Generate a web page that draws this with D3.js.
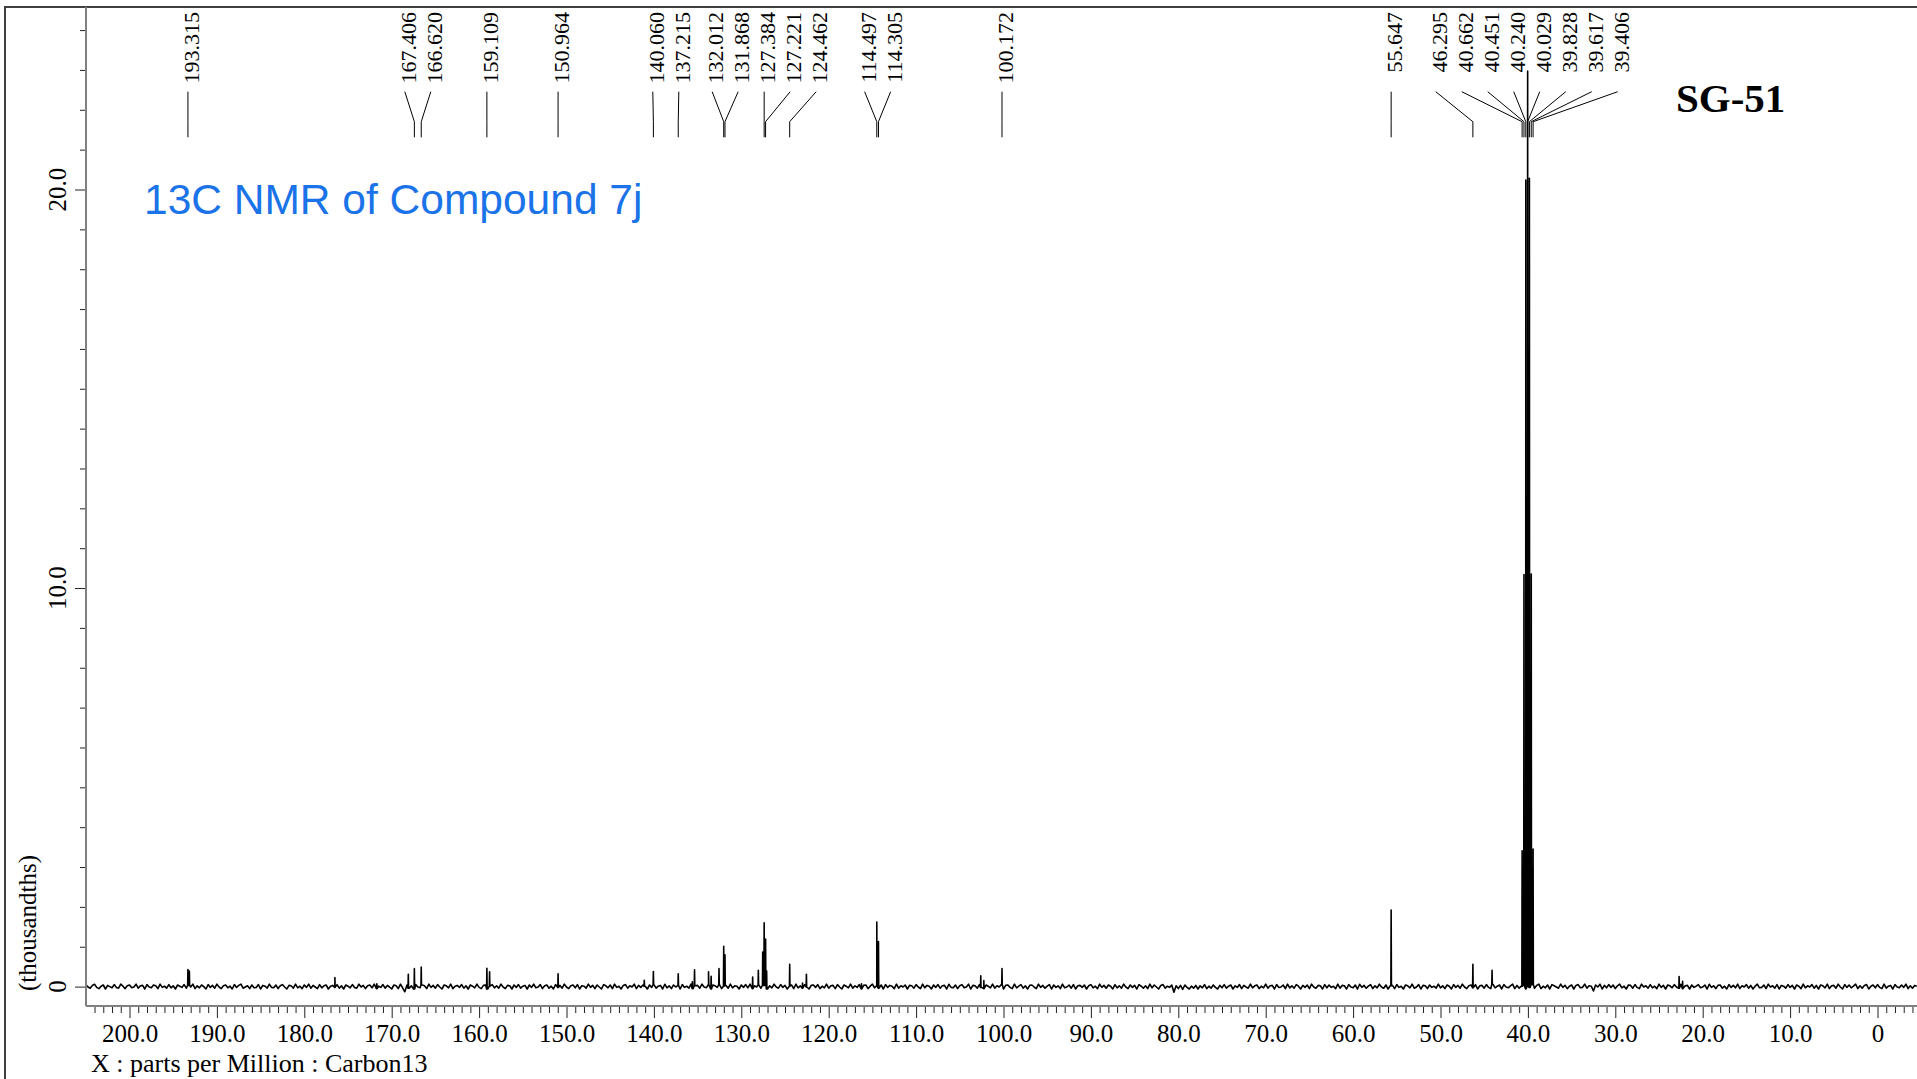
<!DOCTYPE html>
<html>
<head>
<meta charset="utf-8">
<script src="https://cdn.jsdelivr.net/npm/d3@7"></script>
<style>
  html, body { margin: 0; padding: 0; background: #fff; overflow: hidden; }
  svg { display: block; }
</style>
</head>
<body>
<svg id="chart" width="1917" height="1079"></svg>
<script>
// ---- 13C spectrum data (intensity in thousandths) ----

// Picked, annotated peaks (ppm) and their heights
const labelledShifts = [193.315, 167.406, 166.620, 159.109, 150.964, 140.060, 137.215,
  132.012, 131.868, 127.384, 127.221, 124.462, 114.497, 114.305, 100.172, 55.647,
  46.295, 40.662, 40.451, 40.240, 40.029, 39.828, 39.617, 39.406];
const labelledHeights = [0.40, 0.51, 0.45, 0.52, 0.34, 0.33, 0.29,
  1.00, 0.77, 1.57, 1.14, 0.55, 1.60, 1.17, 0.40, 1.90,
  0.59, 3.4, 10.3, 20.3, 22.95, 20.3, 10.3, 3.4];

// Smaller, unannotated signals
const minorShifts = [193.15, 176.5, 171.7, 168.1, 158.8, 141.1, 135.6, 135.35, 133.75,
  133.45, 132.55, 128.7, 128.05, 127.55, 127.1, 123.0, 122.55, 116.25, 102.6, 102.25,
  44.1, 22.7, 22.3];
const minorHeights = [0.36, 0.25, 0.12, 0.35, 0.36, 0.15, 0.17, 0.40, 0.32,
  0.32, 0.40, 0.29, 0.37, 0.84, 0.45, 0.13, 0.32, 0.13, 0.29, 0.20,
  0.35, 0.29, 0.18];

// Baseline noise, sampled every 0.25 ppm from 205.5 ppm downward
const noiseStartPpm = 205.5;
const noiseStepPpm = 0.25;
const baselineNoise = [
  .02,-.03,.05,-.01,-.04,.03,.06,-.02,-.05,.01,.04,-.06,.03,.00,-.03,.05,-.02,-.04,.06,.01,
  -.05,.02,.04,-.03,-.01,.06,-.04,.02,.03,-.06,.05,-.01,-.03,.04,.02,-.05,.06,-.02,.01,-.04,
  .05,-.03,.02,-.06,.04,.01,-.02,.05,-.04,.03,-.01,.06,-.05,.02,-.03,.04,.00,-.06,.05,-.02,
  .03,-.04,.06,-.01,-.05,.02,.04,-.03,.01,-.06,.05,-.02,.03,.06,-.04,-.01,.02,-.05,.04,-.03,
  -.02,.05,-.06,.03,.01,-.04,.06,-.02,-.03,.04,-.05,.02,.05,-.01,-.06,.03,.02,-.04,.06,-.03,
  .01,-.05,.04,-.02,.06,-.04,.03,-.01,-.05,.05,-.03,.02,.04,-.06,.01,.03,-.02,.05,-.04,.02,
  -.06,.04,.01,-.03,.05,-.02,-.04,.06,-.01,.03,-.05,.02,.04,-.03,.06,-.05,.01,-.02,.05,-.04,
  .03,-.01,-.06,.04,.02,-.05,.06,-.03,-.13,.04,-.04,.02,-.06,.05,-.01,-.03,.04,.02,-.05,.06,
  -.02,.03,-.04,.05,-.01,-.06,.04,.02,-.03,.06,-.05,.01,.03,-.02,.05,-.04,.02,-.06,.04,.01,
  -.03,.06,-.02,-.05,.03,.04,-.06,.01,.05,-.03,.02,-.04,.06,-.01,-.05,.03,.02,-.06,.04,-.02,
  .05,-.04,.01,.03,-.06,.04,-.02,.06,-.03,-.01,.05,-.05,.02,.04,-.04,.01,-.06,.05,-.02,.03,
  -.04,.06,-.01,-.05,.02,.04,-.03,.05,-.06,.02,.01,-.04,.06,-.02,.03,-.05,.04,-.01,-.06,.05,
  .02,-.03,.04,-.05,.06,-.02,.01,-.06,.03,.05,-.04,.02,-.01,.06,-.05,.03,-.02,.04,.01,-.06,
  .04,-.02,.05,-.04,.01,.03,-.06,.06,-.03,.02,-.05,.04,-.01,.03,-.06,.05,-.02,.01,-.04,.06,
  -.05,.02,.03,-.04,.06,-.01,-.03,.05,-.06,.04,.02,-.02,.05,-.05,.01,.03,-.04,.06,-.03,.02,
  .01,-.06,.04,-.02,.05,-.03,.06,-.05,.02,-.01,.04,-.04,.03,.05,-.06,.02,-.03,.06,-.01,-.04,
  .05,-.02,.03,-.06,.01,.04,-.05,.06,-.03,.02,-.04,.05,-.01,-.06,.03,.04,-.02,.05,-.05,.01,
  -.03,.06,-.04,.02,.03,-.05,.05,-.01,-.06,.04,.01,-.03,.06,-.04,.02,-.02,.05,-.06,.03,.04,
  -.05,.01,.06,-.03,.02,-.04,.04,-.06,.05,-.02,.03,.01,-.05,.06,-.04,.02,-.01,.04,-.06,.03,
  .02,-.04,.05,-.01,-.05,.06,-.03,.03,.01,-.06,.04,-.02,.05,-.04,.02,.03,-.06,.06,-.02,-.03,
  .04,-.05,.02,.05,-.03,-.01,.06,-.06,.03,.02,-.04,.05,-.02,-.05,.04,.01,-.03,.06,-.04,.02,
  -.01,.05,-.06,.03,.04,-.02,-.05,.06,-.03,.01,.05,-.04,.02,-.06,.03,.04,-.01,-.05,.06,-.02,
  .03,-.04,.01,.05,-.06,.04,-.02,.02,-.05,.06,-.03,-.01,.04,-.04,.05,-.06,.02,.03,-.02,.04,
  -.06,.02,.05,-.03,.01,-.05,.06,-.02,.03,-.04,.04,.01,-.06,.05,-.03,.02,-.04,.06,-.01,-.05,
  .04,-.02,.03,-.06,.05,.01,-.04,.02,-.05,.06,-.03,.04,-.01,-.06,.03,.05,-.04,.01,-.02,.04,
  -.14,.02,-.05,.03,-.07,.04,-.02,-.06,.01,-.04,.03,-.06,.02,-.03,.05,-.05,.01,-.04,.04,-.02,
  -.06,.03,-.03,.05,-.04,.01,.04,-.06,.02,-.02,.05,-.05,.03,-.01,-.04,.06,-.03,.02,.04,-.05,
  .01,-.03,.06,-.04,.02,.03,-.06,.05,-.02,-.01,.04,-.05,.06,-.03,.02,-.04,.05,.01,-.06,.03,
  -.02,.04,-.05,.06,-.01,-.04,.03,.02,-.06,.05,-.03,.04,-.02,.01,-.05,.06,-.04,.03,.02,-.06,
  .05,-.01,-.03,.04,-.06,.06,-.02,.03,-.04,.01,.05,-.05,.02,-.03,.06,-.01,-.04,.04,-.06,.02,
  .03,-.05,.05,-.02,.01,-.06,.04,.02,-.03,.06,-.04,-.01,.05,-.06,.03,.02,-.05,.04,-.02,.01,
  -.04,.06,-.03,.02,-.05,.04,.01,-.06,.05,-.02,.03,-.04,.06,-.01,-.05,.02,.04,-.03,.05,-.06,
  .02,.03,-.04,.05,-.02,-.05,.06,-.03,.01,.04,-.06,.05,-.01,-.03,.02,.06,-.05,.03,-.04,.01,
  .04,-.06,.02,-.02,.05,-.04,.03,.06,-.05,.01,-.03,.04,-.06,.05,.02,-.01,-.04,.06,-.02,.03,
  -.05,.01,.04,-.06,.03,.05,-.03,-.02,.06,-.04,.02,.01,-.11,.04,-.01,.06,-.06,.03,-.03,.05,
  -.02,.04,-.05,.02,.06,-.03,.01,-.06,.04,.03,-.04,.05,-.02,-.05,.06,-.01,.02,-.04,.05,-.03,
  .01,-.05,.06,-.02,.03,-.06,.04,.02,-.03,.05,-.01,-.04,.06,-.05,.02,.03,-.06,.04,-.02,.01,
  .05,-.03,-.01,.04,-.06,.06,-.02,.02,-.05,.03,.04,-.04,.01,-.06,.05,-.02,.03,-.03,.06,-.05,
  .02,-.01,.05,-.04,.03,-.06,.01,.06,-.03,-.02,.04,-.05,.06,-.01,.02,-.04,.05,-.06,.03,.01,
  -.04,.05,-.02,.03,-.06,.04,.01,-.05,.06,-.03,.02,-.01,.05,-.04,.03,-.06,.04,.02,-.03,.06,
  -.05,.02,.03,-.04,.06,-.01,-.06,.05,-.02,.04,-.03,.01,.06,-.05,.02,-.04,.03,.05,-.06,.01,
  .04,-.03,.05,-.02,-.05,.06,-.04,.01,.03,-.06,.05,-.01,-.03,.04,-.02,.06,-.05,.02,-.04,.03,
  .01
];

// Axis ticks
const xMajorTicks = [200, 190, 180, 170, 160, 150, 140, 130, 120, 110, 100, 90, 80, 70, 60, 50, 40, 30, 20, 10, 0];
const xTickLabels = ["200.0", "190.0", "180.0", "170.0", "160.0", "150.0", "140.0", "130.0", "120.0", "110.0",
  "100.0", "90.0", "80.0", "70.0", "60.0", "50.0", "40.0", "30.0", "20.0", "10.0", "0"];
const yMajorTicks = [0, 10, 20];
const yTickLabels = ["0", "10.0", "20.0"];

// ---- layout ----
const W = 1917, H = 1079;
const plotLeft = 86, axisY = 1006, frameTop = 7;
const serif = "'Liberation Serif', 'Times New Roman', Times, serif";

const svg = d3.select("#chart");
const x = d3.scaleLinear().domain([200, 0]).range([129.5, 1877.5]);
const y = d3.scaleLinear().domain([0, 20]).range([986.6, 189.5]);

svg.append("rect").attr("width", W).attr("height", H).attr("fill", "#fff");

// outer frame (left and top edges)
svg.append("path")
  .attr("d", `M5,${H} L5,${frameTop} L${W},${frameTop}`)
  .attr("fill", "none").attr("stroke", "#404040").attr("stroke-width", 2);

// ---- spectrum trace ----
const noiseAt = ppm => {
  const i = Math.max(0, Math.min(baselineNoise.length - 1, Math.round((noiseStartPpm - ppm) / noiseStepPpm)));
  return baselineNoise[i];
};
const points = baselineNoise.map((v, i) => ({ ppm: noiseStartPpm - i * noiseStepPpm, v }));
const halfWidth = 0.03;
const addPeak = (p, h) => {
  const b = noiseAt(p);
  points.push({ ppm: p + halfWidth, v: b }, { ppm: p, v: b + h }, { ppm: p - halfWidth, v: b });
};
labelledShifts.forEach((p, i) => addPeak(p, labelledHeights[i]));
minorShifts.forEach((p, i) => addPeak(p, minorHeights[i]));
points.sort((a, b) => b.ppm - a.ppm);

svg.append("clipPath").attr("id", "plotClip")
  .append("rect").attr("x", plotLeft).attr("y", 0).attr("width", W - plotLeft).attr("height", axisY);

svg.append("path")
  .datum(points)
  .attr("clip-path", "url(#plotClip)")
  .attr("fill", "none")
  .attr("stroke", "#000")
  .attr("stroke-width", 1.6)
  .attr("stroke-linejoin", "round")
  .attr("d", d3.line().x(d => x(d.ppm)).y(d => y(d.v)));

// ---- x axis ----
const xMinor = d3.range(-4, 205).filter(v => v % 10 !== 0);
svg.append("g").attr("transform", `translate(0,${axisY})`)
  .call(d3.axisBottom(x).tickValues(xMinor).tickSize(7).tickFormat(""))
  .call(g => g.select(".domain").remove())
  .call(g => g.selectAll("line").attr("stroke", "#222"));

svg.append("g").attr("transform", `translate(0,${axisY})`)
  .call(d3.axisBottom(x).tickValues(xMajorTicks).tickSize(12).tickPadding(6)
    .tickFormat((d, i) => xTickLabels[i]))
  .call(g => g.select(".domain").remove())
  .call(g => g.selectAll("line").attr("stroke", "#222"))
  .call(g => g.selectAll("text").attr("font-family", serif).attr("font-size", 25).attr("fill", "#000"));

svg.append("line")
  .attr("x1", plotLeft).attr("x2", W).attr("y1", axisY).attr("y2", axisY)
  .attr("stroke", "#808080").attr("stroke-width", 2);

svg.append("text")
  .attr("x", 91).attr("y", 1072)
  .attr("font-family", serif).attr("font-size", 26)
  .text("X : parts per Million : Carbon13");

// ---- y axis ----
const yMinor = d3.range(1, 25).filter(v => v % 10 !== 0);
svg.append("g").attr("transform", `translate(${plotLeft},0)`)
  .call(d3.axisLeft(y).tickValues(yMinor).tickSize(6).tickFormat(""))
  .call(g => g.select(".domain").remove())
  .call(g => g.selectAll("line").attr("stroke", "#222"));
svg.append("g").attr("transform", `translate(${plotLeft},0)`)
  .call(d3.axisLeft(y).tickValues(yMajorTicks).tickSize(11).tickFormat(""))
  .call(g => g.select(".domain").remove())
  .call(g => g.selectAll("line").attr("stroke", "#222"));

svg.append("line")
  .attr("x1", plotLeft).attr("x2", plotLeft).attr("y1", frameTop).attr("y2", axisY)
  .attr("stroke", "#808080").attr("stroke-width", 2);

svg.append("g").selectAll("text")
  .data(yMajorTicks)
  .join("text")
  .attr("transform", d => `translate(66,${y(d)}) rotate(-90)`)
  .attr("text-anchor", "middle")
  .attr("font-family", serif).attr("font-size", 25)
  .text((d, i) => yTickLabels[i]);

svg.append("text")
  .attr("transform", "translate(36,991) rotate(-90)")
  .attr("font-family", serif).attr("font-size", 25)
  .text("(thousandths)");

// ---- peak labels with leader lines ----
// Crowded labels are spread evenly and centred on the median of their peaks.
const gap = 26;
const order = labelledShifts.map((p, i) => i).sort((a, b) => x(labelledShifts[a]) - x(labelledShifts[b]));
let groups = order.map(i => ({ members: [i] }));
const groupPos = g => {
  const c = d3.median(g.members, i => x(labelledShifts[i]));
  const n = g.members.length;
  return g.members.map((_, k) => c + (k - (n - 1) / 2) * gap);
};
let merged = true;
while (merged) {
  merged = false;
  for (let k = 0; k < groups.length - 1; k++) {
    const a = groupPos(groups[k]), b = groupPos(groups[k + 1]);
    if (a[a.length - 1] + gap > b[0]) {
      groups.splice(k, 2, { members: groups[k].members.concat(groups[k + 1].members) });
      merged = true;
      break;
    }
  }
}
const labelX = {};
groups.forEach(g => {
  const pos = groupPos(g);
  g.members.forEach((i, k) => { labelX[i] = pos[k]; });
});

const labelLayer = svg.append("g");
labelLayer.selectAll("path")
  .data(labelledShifts.map((p, i) => i))
  .join("path")
  .attr("fill", "none").attr("stroke", "#000").attr("stroke-width", 1)
  .attr("d", i => {
    const px = x(labelledShifts[i]), lx = labelX[i];
    return `M${lx},91.7 L${px},121.7 L${px},137.3`;
  });
labelLayer.selectAll("text")
  .data(labelledShifts.map((p, i) => i))
  .join("text")
  .attr("transform", i => `translate(${labelX[i] + 11},12) rotate(-90)`)
  .attr("text-anchor", "end")
  .attr("font-family", serif).attr("font-size", 22)
  .text(i => labelledShifts[i].toFixed(3));

// ---- titles ----
svg.append("text")
  .attr("x", 144).attr("y", 214)
  .attr("font-family", "'Liberation Sans', Arial, Helvetica, sans-serif")
  .attr("font-size", 42.5)
  .attr("fill", "#1a73e8")
  .text("13C NMR of Compound 7j");

svg.append("text")
  .attr("x", 1676).attr("y", 112)
  .attr("font-family", serif).attr("font-weight", "bold").attr("font-size", 41)
  .text("SG-51");
</script>
</body>
</html>
